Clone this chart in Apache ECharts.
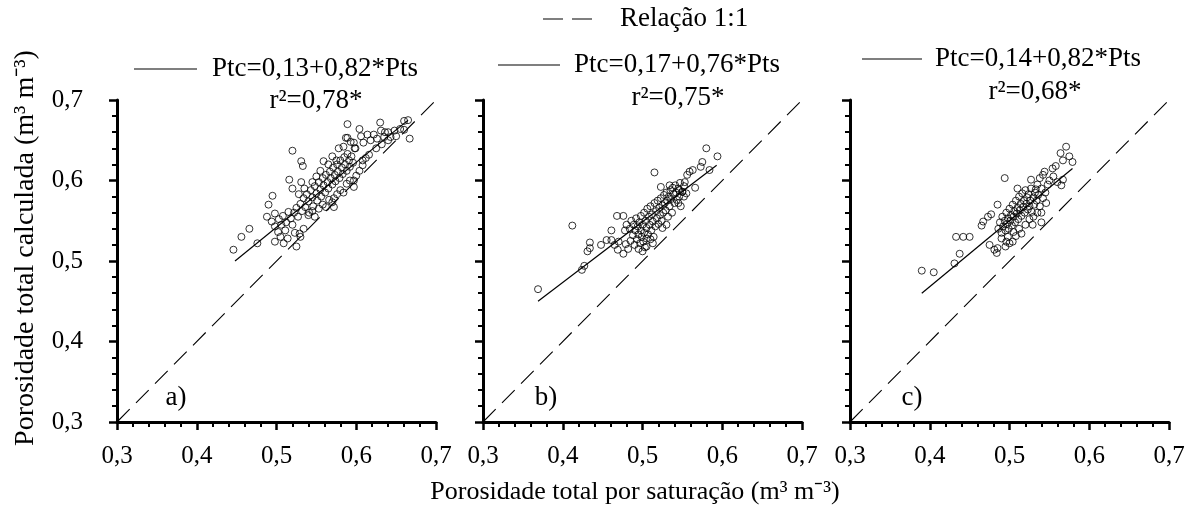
<!DOCTYPE html>
<html>
<head>
<meta charset="utf-8">
<script src="https://cdn.jsdelivr.net/npm/echarts@6/dist/echarts.min.js"></script>
<style>
html,body{margin:0;padding:0;background:#fff;}
#chart{width:1195px;height:510px;}
#dbg{position:absolute;left:0;top:0;width:1px;height:1px;overflow:hidden;color:#fff;font-size:1px;}
</style>
</head>
<body>
<div id="chart"></div>
<div id="dbg"></div>
<script>
// ---- data ----
var axisTicks = [0.3, 0.4, 0.5, 0.6, 0.7];
var panelLabels = ['a)', 'b)', 'c)'];
var equations = ['Ptc=0,13+0,82*Pts', 'Ptc=0,17+0,76*Pts', 'Ptc=0,14+0,82*Pts'];
var r2Labels = ['r\u00b2=0,78*', 'r\u00b2=0,75*', 'r\u00b2=0,68*'];
var oneToOne = [[0.3, 0.3], [0.7, 0.7]];
var fitA = [[0.448, 0.500], [0.665, 0.675]];
var fitB = [[0.369, 0.450], [0.593, 0.619]];
var fitC = [[0.390, 0.460], [0.579, 0.615]];

var pointsA = [
[0.446,0.514],[0.456,0.530],[0.466,0.540],[0.476,0.522],[0.490,0.570],[0.495,0.581],
[0.488,0.555],[0.494,0.549],[0.498,0.559],[0.498,0.543],[0.498,0.524],[0.502,0.536],[0.505,0.530],[0.506,0.545],[0.509,0.522],[0.511,0.538],[0.514,0.528],[0.503,0.552],[0.508,0.556],[0.512,0.548],[0.515,0.561],[0.518,0.553],[0.520,0.545],[0.523,0.535],[0.525,0.518],[0.529,0.534],[0.530,0.530],[0.534,0.540],
[0.520,0.637],[0.531,0.624],[0.533,0.618],[0.516,0.601],[0.520,0.590],[0.531,0.598],[0.528,0.583],[0.535,0.590],
[0.522,0.560],[0.525,0.566],[0.527,0.555],[0.530,0.571],[0.532,0.562],[0.534,0.578],[0.536,0.567],[0.538,0.583],[0.540,0.574],[0.541,0.560],[0.543,0.588],[0.545,0.579],[0.546,0.568],[0.548,0.593],[0.550,0.584],[0.551,0.575],[0.553,0.598],[0.555,0.589],[0.556,0.580],[0.558,0.603],[0.559,0.594],[0.561,0.585],[0.562,0.607],[0.564,0.598],[0.565,0.590],[0.567,0.611],[0.568,0.603],[0.570,0.595],[0.571,0.616],[0.573,0.607],[0.574,0.599],[0.576,0.620],[0.577,0.611],[0.579,0.603],[0.580,0.625],[0.582,0.616],[0.583,0.608],[0.585,0.629],[0.586,0.620],[0.588,0.612],[0.589,0.633],[0.591,0.625],[0.592,0.617],[0.594,0.630],[0.596,0.622],[0.598,0.640],
[0.540,0.557],[0.545,0.562],[0.548,0.555],[0.553,0.565],[0.558,0.570],[0.562,0.567],[0.566,0.576],[0.570,0.573],[0.572,0.578],[0.572,0.567],[0.576,0.583],[0.580,0.588],[0.584,0.585],[0.588,0.596],[0.592,0.600],[0.597,0.600],[0.597,0.592],[0.600,0.606],[0.604,0.612],[0.608,0.625],[0.608,0.619],[0.612,0.628],[0.616,0.632],
[0.545,0.598],[0.550,0.605],[0.555,0.612],[0.559,0.624],[0.565,0.620],[0.570,0.630],[0.575,0.625],[0.578,0.640],[0.584,0.642],[0.587,0.653],[0.589,0.670],[0.589,0.653],[0.593,0.648],[0.597,0.647],[0.599,0.640],[0.604,0.664],[0.606,0.655],[0.609,0.647],[0.614,0.657],[0.618,0.650],[0.622,0.657],[0.626,0.652],[0.630,0.672],[0.631,0.662],[0.635,0.654],[0.636,0.660],[0.640,0.660],[0.643,0.654],[0.648,0.662],[0.655,0.664],[0.660,0.663],[0.660,0.674],[0.665,0.675],[0.667,0.652],
[0.625,0.640],[0.632,0.645],[0.640,0.650],[0.650,0.655]
];

var pointsB = [
[0.369,0.465],[0.412,0.544],[0.424,0.489],[0.427,0.494],[0.431,0.512],[0.434,0.516],[0.434,0.523],[0.448,0.520],[0.455,0.526],[0.461,0.526],[0.461,0.538],[0.465,0.520],[0.468,0.556],[0.476,0.556],[0.469,0.514],[0.470,0.524],[0.476,0.509],[0.479,0.521],
[0.484,0.540],[0.486,0.550],[0.488,0.532],[0.489,0.545],[0.490,0.520],[0.491,0.538],[0.492,0.553],[0.493,0.527],[0.494,0.543],[0.495,0.533],[0.495,0.515],[0.496,0.548],[0.497,0.522],[0.498,0.538],[0.498,0.556],[0.499,0.530],[0.500,0.512],[0.500,0.545],[0.501,0.524],[0.502,0.560],[0.502,0.535],[0.503,0.517],[0.504,0.550],[0.505,0.528],[0.505,0.541],[0.506,0.565],[0.507,0.533],[0.508,0.555],[0.509,0.545],[0.510,0.527],[0.510,0.568],[0.511,0.538],[0.512,0.558],[0.513,0.549],[0.514,0.530],[0.515,0.572],[0.516,0.543],[0.517,0.562],[0.518,0.553],[0.519,0.575],[0.520,0.546],[0.521,0.566],[0.522,0.557],[0.523,0.578],[0.524,0.550],[0.525,0.569],[0.526,0.560],[0.527,0.582],[0.528,0.572],[0.529,0.563],[0.530,0.585],[0.531,0.575],[0.532,0.555],[0.533,0.580],[0.534,0.568],[0.535,0.588],[0.536,0.577],[0.537,0.560],[0.538,0.591],[0.539,0.583],[0.540,0.572],[0.541,0.594],[0.542,0.585],[0.543,0.576],[0.545,0.590],[0.546,0.580],[0.547,0.597],[0.548,0.568],[0.550,0.586],[0.552,0.593],[0.553,0.598],[0.555,0.584],
[0.515,0.610],[0.523,0.592],[0.534,0.594],[0.546,0.588],[0.550,0.586],[0.552,0.580],[0.545,0.572],[0.530,0.545],[0.525,0.541],[0.513,0.522],[0.505,0.518],[0.556,0.607],[0.559,0.611],[0.563,0.613],[0.566,0.591],[0.573,0.617],[0.575,0.623],[0.580,0.640],[0.584,0.613],[0.594,0.630],
[0.480,0.545],[0.478,0.538],[0.485,0.525],[0.482,0.515]
];

var pointsC = [
[0.390,0.488],[0.405,0.486],[0.431,0.497],[0.4375,0.509],[0.433,0.530],[0.442,0.530],[0.450,0.530],[0.465,0.544],[0.467,0.549],[0.473,0.555],[0.477,0.558],[0.485,0.570],[0.494,0.603],[0.475,0.520],[0.481,0.514],[0.485,0.516],[0.484,0.510],[0.496,0.524],[0.500,0.522],[0.504,0.524],[0.508,0.531],[0.515,0.534],[0.529,0.545],[0.546,0.572],[0.571,0.642],[0.579,0.623],[0.567,0.625],[0.564,0.634],[0.554,0.615],[0.567,0.601],[0.565,0.594],[0.527,0.601],[0.538,0.603],[0.542,0.607],[0.544,0.611],[0.510,0.590],[0.533,0.589],[0.535,0.595],
[0.486,0.540],[0.488,0.548],[0.490,0.535],[0.491,0.555],[0.492,0.543],[0.494,0.550],[0.495,0.538],[0.496,0.560],[0.497,0.546],[0.498,0.553],[0.499,0.540],[0.500,0.565],[0.501,0.550],[0.502,0.557],[0.503,0.544],[0.504,0.570],[0.505,0.555],[0.506,0.562],[0.507,0.548],[0.508,0.575],[0.509,0.559],[0.510,0.566],[0.511,0.552],[0.512,0.580],[0.513,0.563],[0.514,0.571],[0.515,0.556],[0.516,0.584],[0.517,0.567],[0.518,0.575],[0.519,0.560],[0.520,0.588],[0.521,0.571],[0.522,0.579],[0.523,0.564],[0.524,0.583],[0.525,0.568],[0.526,0.575],[0.527,0.590],[0.528,0.561],[0.530,0.579],[0.531,0.570],[0.532,0.585],[0.534,0.575],[0.536,0.582],[0.538,0.568],[0.540,0.590],[0.542,0.578],[0.545,0.585],[0.548,0.595],
[0.490,0.528],[0.495,0.518],[0.498,0.530],[0.505,0.536],[0.512,0.540],[0.520,0.545],[0.525,0.552],[0.530,0.555],[0.535,0.560],[0.540,0.548],[0.550,0.600],[0.555,0.605],[0.560,0.598],[0.558,0.618],[0.575,0.630],[0.540,0.560]
];

var pointSets = [pointsA, pointsB, pointsC];
var fits = [fitA, fitB, fitC];

// ---- layout ----
var FONT = 'Liberation Serif';
var gridLefts = [117, 483, 850];

function fmt(v) { return (Math.round(v * 10) / 10).toFixed(1).replace('.', ','); }

function makeAxis(i, showLabel, margin) {
  return {
    type: 'value', gridIndex: i,
    min: axisTicks[0], max: axisTicks[axisTicks.length - 1], interval: 0.1,
    axisLine: { show: true, onZero: false, lineStyle: { color: '#000', width: 3 } },
    axisTick: { show: true, length: 8, lineStyle: { color: '#000', width: 2.5 } },
    minorTick: { show: true, splitNumber: 5, length: 5, lineStyle: { color: '#000', width: 2 } },
    splitLine: { show: false }, minorSplitLine: { show: false },
    axisLabel: { show: showLabel, formatter: fmt, color: '#000', fontFamily: FONT, fontSize: 25, margin: margin }
  };
}

var grids = [], xAxes = [], yAxes = [], series = [];
gridLefts.forEach(function (l, i) {
  grids.push({ left: l, top: 100, width: 319, height: 322 });
  xAxes.push(makeAxis(i, true, 22));
  yAxes.push(makeAxis(i, i === 0, 34));
  series.push({
    type: 'scatter', xAxisIndex: i, yAxisIndex: i, data: pointSets[i],
    symbol: 'circle', symbolSize: 7,
    itemStyle: { color: 'rgba(255,255,255,0)', borderColor: '#000', borderWidth: 1 }
  });
  series.push({
    type: 'line', xAxisIndex: i, yAxisIndex: i, data: oneToOne, symbol: 'none',
    lineStyle: { color: '#000', width: 1.1, type: [18, 9] }
  });
  series.push({
    type: 'line', xAxisIndex: i, yAxisIndex: i, data: fits[i], symbol: 'none',
    lineStyle: { color: '#000', width: 1.2 }
  });
});

function txt(x, y, text, align, size) {
  return { type: 'text', x: x, y: y, style: { text: text, fill: '#000', font: (size || 27) + 'px "' + FONT + '"', align: align || 'left', verticalAlign: 'middle' } };
}
var graphics = [
  { type: 'line', shape: { x1: 543, y1: 19, x2: 600, y2: 19 }, style: { stroke: '#000', lineWidth: 1.2, lineDash: [20, 9] } },
  txt(620, 19, 'Relação 1:1'),
  { type: 'line', shape: { x1: 134, y1: 69, x2: 197, y2: 69 }, style: { stroke: '#000', lineWidth: 1.2 } },
  txt(212, 69, equations[0]),
  txt(316, 101, r2Labels[0], 'center'),
  { type: 'line', shape: { x1: 498, y1: 65, x2: 560, y2: 65 }, style: { stroke: '#000', lineWidth: 1.2 } },
  txt(574, 65, equations[1]),
  txt(678, 98, r2Labels[1], 'center'),
  { type: 'line', shape: { x1: 862, y1: 59, x2: 922, y2: 59 }, style: { stroke: '#000', lineWidth: 1.2 } },
  txt(935, 59, equations[2]),
  txt(1035, 92, r2Labels[2], 'center'),
  txt(176, 398, panelLabels[0], 'center'),
  txt(546, 398, panelLabels[1], 'center'),
  txt(912, 398, panelLabels[2], 'center'),
  txt(635, 492, 'Porosidade total por saturação (m\u00b3 m\u207b\u00b3)', 'center', 26),
  { type: 'text', x: 26, y: 248, rotation: Math.PI / 2,
    style: { text: 'Porosidade total calculada (m\u00b3 m\u207b\u00b3)', fill: '#000', font: '28px "' + FONT + '"', align: 'center', verticalAlign: 'middle' } }
];

var option = {
  animation: false,
  grid: grids,
  xAxis: xAxes,
  yAxis: yAxes,
  series: series,
  graphic: graphics
};
var chart = echarts.init(document.getElementById('chart'));
chart.setOption(option);
var o = chart.getOption();
document.getElementById('dbg').textContent = JSON.stringify(o.xAxis[0].axisTick);
chart.resize();
</script>
</body>
</html>
